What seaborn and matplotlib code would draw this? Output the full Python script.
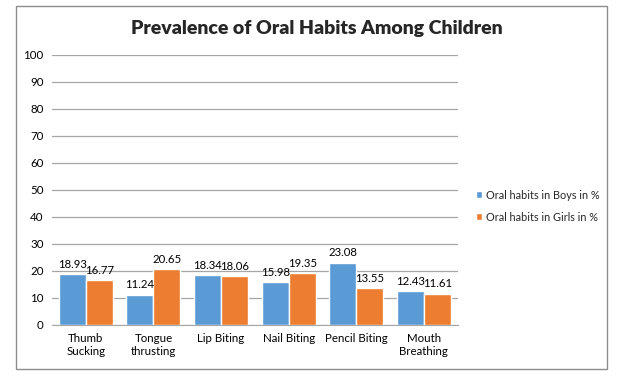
import pandas as pd
import matplotlib.pyplot as plt
import seaborn as sns
from matplotlib.patches import Rectangle

habits = ['Thumb\nSucking', 'Tongue\nthrusting', 'Lip Biting', 'Nail Biting',
          'Pencil Biting', 'Mouth\nBreathing']
boys = [18.93, 11.24, 18.34, 15.98, 23.08, 12.43]
girls = [16.77, 20.65, 18.06, 19.35, 13.55, 11.61]
series = ['Oral habits in Boys in %', 'Oral habits in Girls in %']
colors = ['#5B9BD5', '#ED7D31']

df = pd.DataFrame({
    'habit': habits * 2,
    'value': boys + girls,
    'series': [series[0]] * len(habits) + [series[1]] * len(habits),
})

sns.set_style('white')
plt.rcParams['font.family'] = ['Lato', 'DejaVu Sans']

fig = plt.figure(figsize=(6.34, 3.81), dpi=100)
ax = fig.add_axes([0.082, 0.147, 0.64, 0.709])

sns.barplot(data=df, x='habit', y='value', hue='series', palette=colors,
            width=0.8, gap=0, saturation=1, ax=ax, zorder=3)

# data labels above each bar
for c in ax.containers:
    ax.bar_label(c, fmt='%.2f', padding=3, fontsize=8.2, color='#000000')

ax.set_ylim(0, 100)
ax.set_yticks(range(0, 101, 10))
ax.yaxis.grid(True, color='#a6a6a6', linewidth=0.9, zorder=0)
ax.set_xlabel('')
ax.set_ylabel('')
for s in ['top', 'right', 'left']:
    ax.spines[s].set_visible(False)
ax.spines['bottom'].set_color('#a6a6a6')
ax.tick_params(axis='both', length=0, labelsize=8.3, colors='#000000', pad=6)

ax.legend(loc='center left', bbox_to_anchor=(1.02, 0.44), frameon=False,
          fontsize=7.8, handlelength=0.6, handleheight=0.6, handletextpad=0.4,
          labelspacing=1.0)

fig.text(0.5, 0.925, 'Prevalence of Oral Habits Among Children', ha='center',
         va='center', fontsize=14, fontweight='heavy')

# outer chart border
fig.patches.append(Rectangle((16 / 634, 1 - 369 / 381), (607 - 16) / 634,
                             (369 - 6) / 381, transform=fig.transFigure,
                             fill=False, edgecolor='#8c8c8c', linewidth=1))

fig.savefig('out.png', dpi=100)
